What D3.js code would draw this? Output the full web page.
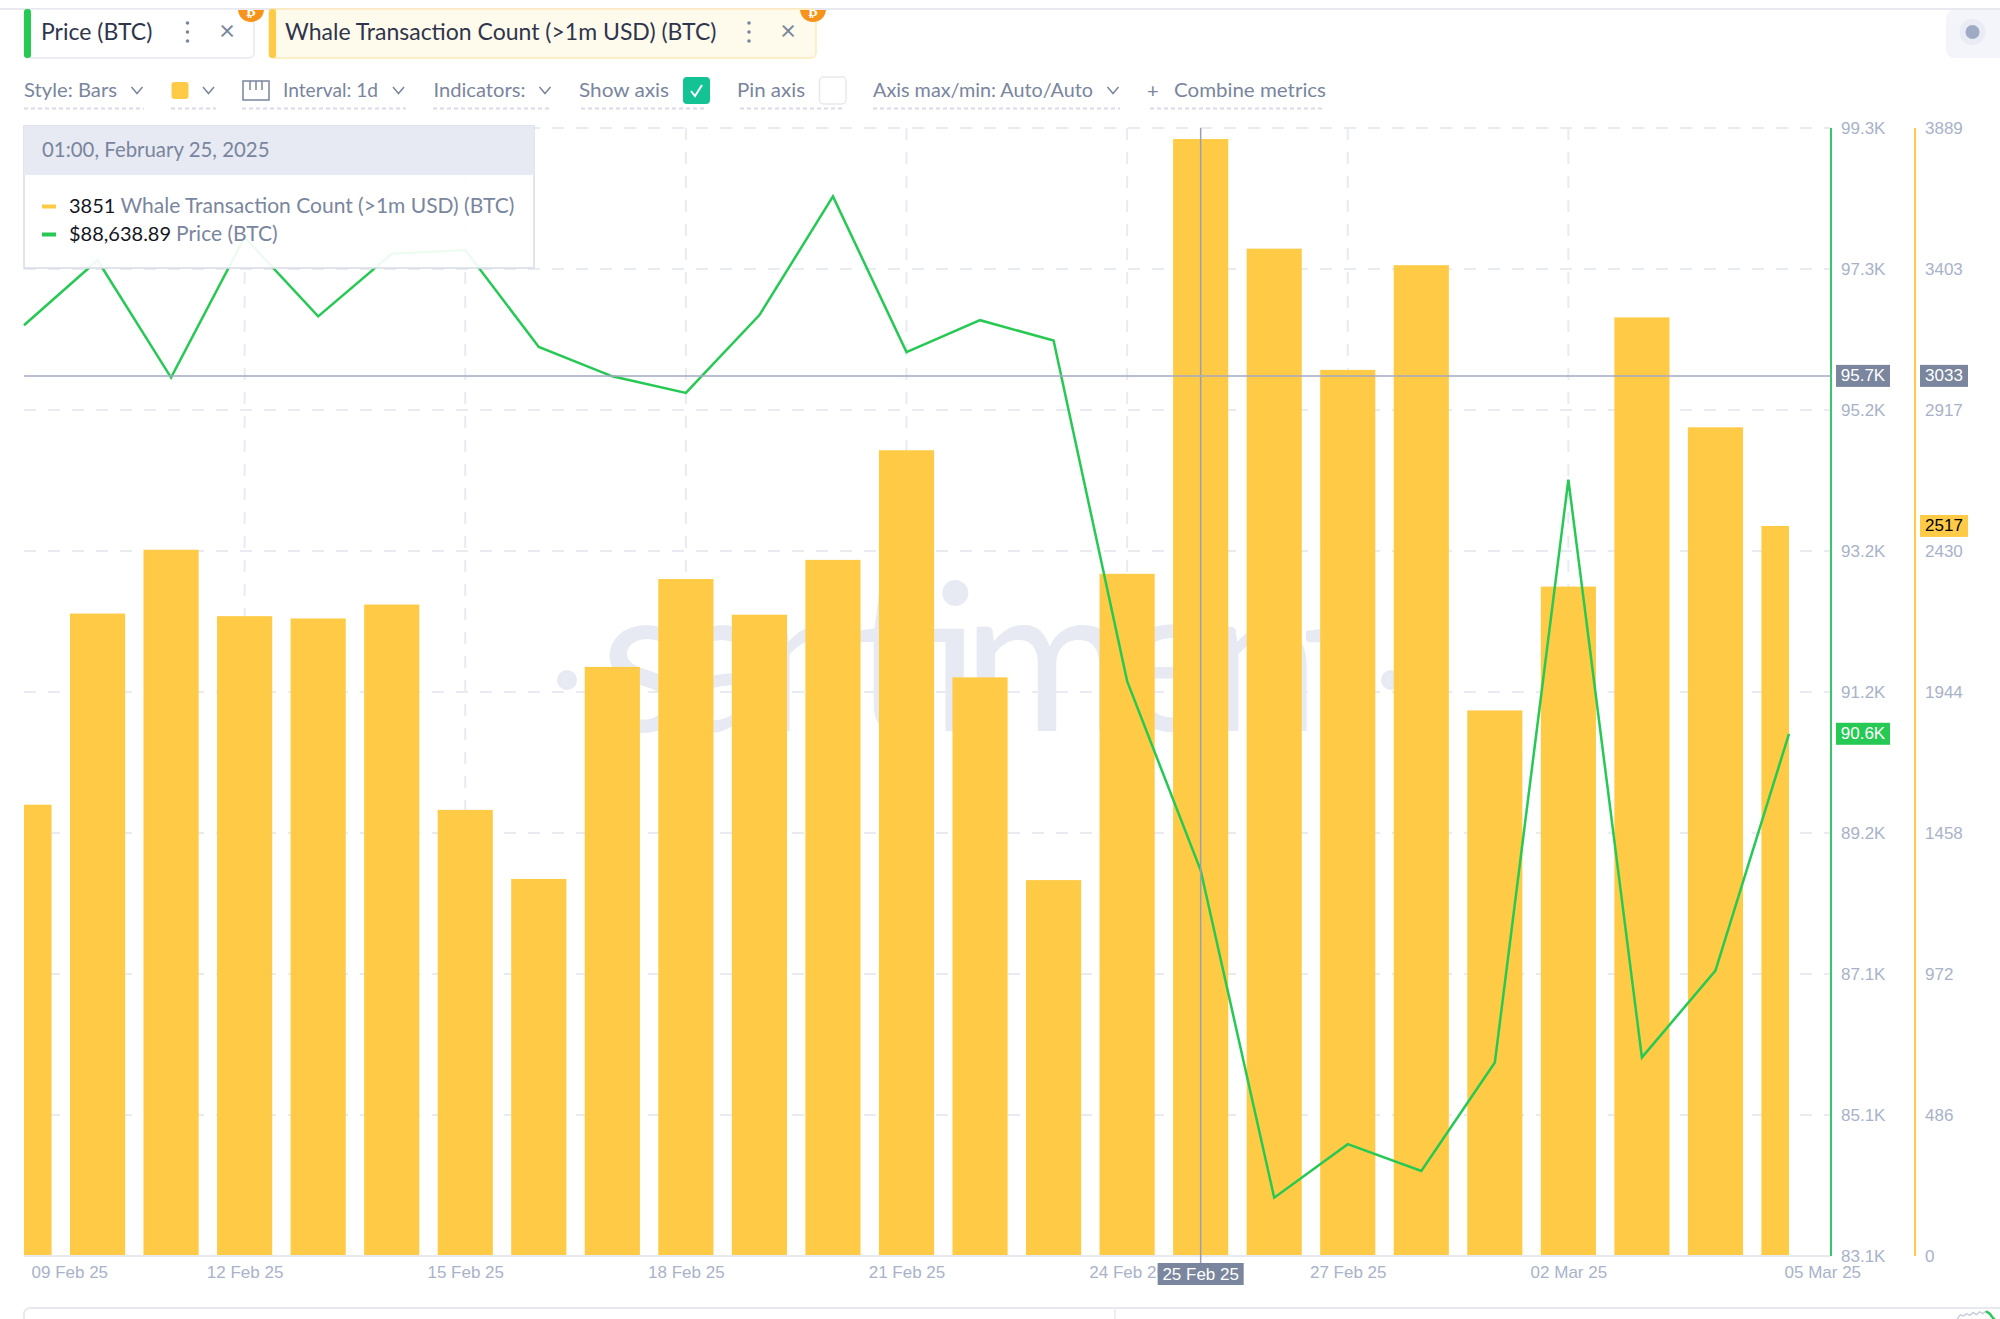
<!DOCTYPE html>
<html>
<head>
  <title>Whale Transaction Count vs Price (BTC)</title>
<style>
  body {
    margin: 0;
    background: #fff;
    font-family: Lato, sans-serif;
  }
  svg { display: block; }
  .ui { font-family: Lato, sans-serif; font-size: 20px; fill: #7a859e; }
  .tab { font-family: Lato, sans-serif; font-size: 23px; fill: #2f354d; }
  .axis-text text { font-family: "Liberation Sans", sans-serif; font-size: 17px; fill: #a9b2c9; }
  .axis-text path, .axis-text line { display: none; }
  .grid { stroke: #e9ebf2; stroke-width: 2; stroke-dasharray: 12 12; }
  .under { stroke: #d9dce6; stroke-width: 2; stroke-dasharray: 4 3; }
  .chev { fill: none; stroke: #7a859e; stroke-width: 1.5; }
  .tag { font-family: "Liberation Sans", sans-serif; font-size: 17px; text-anchor: middle; dominant-baseline: central; }
</style>
</head>
<body>
  <div id="chart"></div>
  <script src="https://d3js.org/d3.v7.min.js"></script>
  <script>
    const width = 2000;
    const height = 1319;

    const dates = ["09 Feb 25", "10 Feb 25", "11 Feb 25", "12 Feb 25", "13 Feb 25", "14 Feb 25", "15 Feb 25",
      "16 Feb 25", "17 Feb 25", "18 Feb 25", "19 Feb 25", "20 Feb 25", "21 Feb 25", "22 Feb 25", "23 Feb 25",
      "24 Feb 25", "25 Feb 25", "26 Feb 25", "27 Feb 25", "28 Feb 25", "01 Mar 25", "02 Mar 25", "03 Mar 25",
      "04 Mar 25", "05 Mar 25"];
    const whaleCount = [1556, 2215, 2435, 2206, 2198, 2246, 1538, 1300, 2031, 2334, 2211, 2400, 2778, 1995, 1296,
      2352, 3851, 3473, 3055, 3416, 1881, 2308, 3236, 2857, 2517];
    const price = [96467, 97401, 95716, 97731, 96595, 97493, 97548, 96156, 95734, 95496, 96613, 98317, 96082, 96540,
      96247, 91356, 88639, 83937, 84706, 84322, 85879, 94250, 85952, 87198, 90600];
    const xTickDates = ["09 Feb 25", "12 Feb 25", "15 Feb 25", "18 Feb 25", "21 Feb 25", "24 Feb 25", "27 Feb 25",
      "02 Mar 25", "05 Mar 25"];
    const priceTicks = [99300, 97275, 95250, 93225, 91200, 89175, 87150, 85125, 83100];
    const priceTickLabels = ["99.3K", "97.3K", "95.2K", "93.2K", "91.2K", "89.2K", "87.1K", "85.1K", "83.1K"];
    const whaleTicks = [3889, 3403, 2917, 2430, 1944, 1458, 972, 486, 0];
    const selectedDate = "25 Feb 25";
    const hoverPrice = 95740;
    const overviewGrey = [2, 6, 5, 7, 5.5, 8, 6, 8.5, 7, 9];
    const overviewGreen = [9, 7, 3, 0];

    const GREEN = "#26c953";
    const YELLOW = "#ffcb47";
    const plot = { left: 24, lastDate: 1789, right: 1831, yellowAxis: 1915, top: 128, bottom: 1256 };

    const svg = d3.select("#chart").append("svg")
      .attr("width", width)
      .attr("height", height);

    const step = (plot.lastDate - plot.left) / (dates.length - 1);
    const xBand = d3.scaleBand()
      .domain(dates)
      .range([plot.left - step / 2, plot.lastDate + step / 2])
      .paddingInner(0.25)
      .paddingOuter(0.125);
    const xCenter = d => xBand(d) + xBand.bandwidth() / 2;

    const yPrice = d3.scaleLinear().domain([83100, 99300]).range([plot.bottom, plot.top]);
    const yWhale = d3.scaleLinear().domain([0, 3889]).range([plot.bottom, plot.top]);

    svg.append("defs").append("clipPath").attr("id", "plot-clip")
      .append("rect")
      .attr("x", plot.left).attr("y", plot.top)
      .attr("width", plot.lastDate - plot.left).attr("height", plot.bottom - plot.top);
    svg.select("defs").append("clipPath").attr("id", "tabs-clip")
      .append("rect")
      .attr("x", 0).attr("y", 10).attr("width", width).attr("height", 60);

    // page chrome above the chart
    svg.append("line").attr("x1", 0).attr("x2", width).attr("y1", 9).attr("y2", 9)
      .attr("stroke", "#e7e9ef").attr("stroke-width", 2);

    function tab(x, w, barColor, fill, border, label, textX, kebabX, closeX) {
      const g = svg.append("g");
      g.append("rect").attr("x", x).attr("y", 9).attr("width", w).attr("height", 49).attr("rx", 5)
        .attr("fill", fill).attr("stroke", border).attr("stroke-width", 1.5);
      g.append("rect").attr("x", x).attr("y", 9).attr("width", 7).attr("height", 49).attr("rx", 3).attr("fill", barColor);
      const badge = g.append("g").attr("clip-path", "url(#tabs-clip)");
      badge.append("circle").attr("cx", x + w - 3).attr("cy", 9).attr("r", 13).attr("fill", "#f7931a");
      badge.append("text").attr("x", x + w - 3).attr("y", 16).attr("text-anchor", "middle")
        .attr("font-family", "DejaVu Sans").attr("font-size", 14).attr("font-weight", "bold").attr("fill", "#fff").text("₿");
      g.append("text").attr("class", "tab").attr("x", textX).attr("y", 40).text(label);
      [23, 32, 41].forEach(y => g.append("circle").attr("cx", kebabX).attr("cy", y).attr("r", 1.8).attr("fill", "#7a859e"));
      g.append("text").attr("x", closeX).attr("y", 40).attr("text-anchor", "middle")
        .attr("font-family", "Lato").attr("font-size", 27).attr("fill", "#7a859e").text("×");
    }
    tab(24, 230, GREEN, "#fff", "#e7e9ef", "Price (BTC)", 41, 187.5, 227);
    tab(269, 547, YELLOW, "#fffbec", "#ffeab8", "Whale Transaction Count (>1m USD) (BTC)", 285, 749, 788);

    svg.append("rect").attr("x", 1946).attr("y", 10).attr("width", 60).attr("height", 48).attr("rx", 8).attr("fill", "#f3f5fa");
    svg.append("circle").attr("cx", 1972.5).attr("cy", 32).attr("r", 13).attr("fill", "#e9ecf5");
    svg.append("circle").attr("cx", 1972.5).attr("cy", 32).attr("r", 7).attr("fill", "#9faac4");

    const chevron = x => svg.append("path").attr("class", "chev")
      .attr("d", `M${x - 5.5},87 L${x},93.5 L${x + 5.5},87`);
    const underline = (x1, x2) => svg.append("line").attr("class", "under")
      .attr("x1", x1).attr("x2", x2).attr("y1", 108.5).attr("y2", 108.5);
    const uiText = (x, t, w) => svg.append("text").attr("class", "ui").attr("x", x).attr("y", 97)
      .attr("textLength", w).attr("lengthAdjust", "spacingAndGlyphs").text(t);

    uiText(24, "Style: Bars", 93); chevron(137); underline(24, 144);
    svg.append("rect").attr("x", 171.5).attr("y", 82).attr("width", 17).attr("height", 17).attr("rx", 3).attr("fill", YELLOW);
    chevron(208.5); underline(171, 216);
    svg.append("rect").attr("x", 243).attr("y", 81).attr("width", 26).attr("height", 19).attr("fill", "none")
      .attr("stroke", "#7a859e").attr("stroke-width", 1.5);
    [250, 256, 262].forEach(x => svg.append("line").attr("x1", x).attr("x2", x).attr("y1", 81).attr("y2", 90)
      .attr("stroke", "#7a859e").attr("stroke-width", 1.5));
    uiText(283, "Interval: 1d", 95); chevron(398.5); underline(242, 406);
    uiText(433.5, "Indicators:", 92); chevron(545); underline(433, 552);
    uiText(579, "Show axis", 90); underline(581, 707);
    svg.append("rect").attr("x", 683).attr("y", 77).attr("width", 27).attr("height", 27).attr("rx", 4).attr("fill", "#14c393");
    svg.append("path").attr("d", "M691,91 L695,96 L702,85").attr("fill", "none").attr("stroke", "#fff").attr("stroke-width", 2);
    uiText(737, "Pin axis", 68); underline(740, 843);
    svg.append("rect").attr("x", 819.5).attr("y", 77).attr("width", 26.5).attr("height", 27).attr("rx", 4)
      .attr("fill", "#fff").attr("stroke", "#e7e9ef").attr("stroke-width", 1.5);
    uiText(873, "Axis max/min: Auto/Auto", 220); chevron(1113); underline(873, 1120);
    svg.append("text").attr("class", "ui").attr("x", 1147).attr("y", 98).attr("font-size", 22).text("+");
    uiText(1174, "Combine metrics", 152); underline(1150, 1322);

    // grid
    const grid = svg.append("g");
    grid.selectAll(".h").data(priceTicks).enter().append("line").attr("class", "grid h")
      .attr("x1", plot.left).attr("x2", plot.right)
      .attr("y1", d => yPrice(d)).attr("y2", d => yPrice(d));
    grid.selectAll(".v").data(xTickDates.slice(1, -1)).enter().append("line").attr("class", "grid v")
      .attr("x1", xCenter).attr("x2", xCenter)
      .attr("y1", plot.top).attr("y2", plot.bottom);

    // watermark
    svg.append("text")
      .attr("x", 600).attr("y", 731)
      .attr("textLength", 775).attr("lengthAdjust", "spacing")
      .attr("font-family", "Lato").attr("font-weight", 400).attr("font-size", 205)
      .attr("fill", "#e7eaf3")
      .text("santiment");
    [567, 1391].forEach(x => svg.append("circle").attr("cx", x).attr("cy", 680).attr("r", 10).attr("fill", "#e7eaf3"));

    // bars
    svg.append("g").attr("clip-path", "url(#plot-clip)")
      .selectAll("rect").data(dates).enter().append("rect")
      .attr("x", d => xBand(d))
      .attr("y", (d, i) => yWhale(whaleCount[i]))
      .attr("width", xBand.bandwidth())
      .attr("height", (d, i) => plot.bottom - yWhale(whaleCount[i]))
      .attr("fill", YELLOW);

    // baseline and side axes
    svg.append("line").attr("x1", plot.left).attr("x2", plot.right).attr("y1", plot.bottom).attr("y2", plot.bottom)
      .attr("stroke", "#e7e9ef").attr("stroke-width", 2);

    svg.append("line").attr("x1", plot.right).attr("x2", plot.right).attr("y1", plot.top).attr("y2", plot.bottom)
      .attr("stroke", "#35c768").attr("stroke-width", 2);
    svg.append("line").attr("x1", plot.yellowAxis).attr("x2", plot.yellowAxis).attr("y1", plot.top).attr("y2", plot.bottom)
      .attr("stroke", YELLOW).attr("stroke-width", 2);

    svg.append("g").attr("class", "axis-text")
      .attr("transform", `translate(${plot.right},0)`)
      .call(d3.axisRight(yPrice).tickValues(priceTicks).tickFormat((d, i) => priceTickLabels[i]).tickSize(0).tickPadding(10));
    svg.append("g").attr("class", "axis-text")
      .attr("transform", `translate(${plot.yellowAxis},0)`)
      .call(d3.axisRight(yWhale).tickValues(whaleTicks).tickFormat(d3.format("d")).tickSize(0).tickPadding(10));

    const xAxisG = svg.append("g").attr("class", "axis-text")
      .attr("transform", `translate(0,${plot.bottom})`)
      .call(d3.axisBottom(d3.scalePoint().domain(dates).range([plot.left, plot.lastDate]))
        .tickValues(xTickDates).tickSize(0).tickPadding(10));
    // first and last labels get pushed inside like in the app
    xAxisG.selectAll("text")
      .attr("text-anchor", d => (d === xTickDates[0] || d === xTickDates[xTickDates.length - 1]) ? "start" : "middle")
      .attr("dx", d => d === xTickDates[0] ? 7 : d === xTickDates[xTickDates.length - 1] ? -5 : 0);

    // price line
    const line = d3.line().x((d, i) => xCenter(dates[i])).y(d => yPrice(d));
    svg.append("path").datum(price)
      .attr("d", line)
      .attr("fill", "none")
      .attr("stroke", GREEN)
      .attr("stroke-width", 2.5);

    // crosshair
    const crossX = xCenter(selectedDate);
    const crossY = yPrice(hoverPrice);
    svg.append("line").attr("x1", crossX).attr("x2", crossX).attr("y1", plot.top).attr("y2", 1263)
      .attr("stroke", "#9a9fb0").attr("stroke-width", 1.5);
    svg.append("line").attr("x1", plot.left).attr("x2", plot.right).attr("y1", crossY).attr("y2", crossY)
      .attr("stroke", "#a3a9c2").attr("stroke-width", 1.5);

    function tag(cx, cy, w, fill, textFill, label) {
      svg.append("rect").attr("x", cx - w / 2).attr("y", cy - 11).attr("width", w).attr("height", 22).attr("fill", fill);
      svg.append("text").attr("class", "tag").attr("x", cx).attr("y", cy).attr("fill", textFill).text(label);
    }
    tag(1863, crossY, 54, "#7a859e", "#fff", "95.7K");
    tag(1944, crossY, 48, "#7a859e", "#fff", "3033");
    tag(1944, yWhale(whaleCount[whaleCount.length - 1]), 48, YELLOW, "#000", "2517");
    tag(1863, yPrice(price[price.length - 1]), 54, GREEN, "#fff", "90.6K");
    tag(crossX, 1274, 86, "#7a859e", "#fff", selectedDate);

    // tooltip
    const tip = svg.append("g");
    tip.append("rect").attr("x", 24).attr("y", 126).attr("width", 510).attr("height", 142)
      .attr("fill", "#fff").attr("fill-opacity", 0.92).attr("stroke", "#d8dbe6").attr("stroke-width", 1.5);
    tip.append("rect").attr("x", 24).attr("y", 126).attr("width", 510).attr("height", 49).attr("fill", "#e7eaf3");
    tip.append("text").attr("class", "ui").attr("x", 42).attr("y", 157).attr("font-size", 20.4)
      .style("font-size", "20.4px").text("01:00, February 25, 2025");
    tip.append("rect").attr("x", 42).attr("y", 204.5).attr("width", 14).attr("height", 4).attr("fill", YELLOW);
    tip.append("rect").attr("x", 42).attr("y", 232.5).attr("width", 14).attr("height", 4).attr("fill", GREEN);
    const row1 = tip.append("text").attr("class", "ui").attr("x", 69).attr("y", 213);
    row1.append("tspan").attr("fill", "#14161f").style("fill", "#14161f").text("3851");
    row1.append("tspan").attr("dx", 5).style("font-size", "21px").text("Whale Transaction Count (>1m USD) (BTC)");
    const row2 = tip.append("text").attr("class", "ui").attr("x", 69).attr("y", 241);
    row2.append("tspan").attr("fill", "#14161f").style("fill", "#14161f").text("$88,638.89");
    row2.append("tspan").attr("dx", 5).style("font-size", "21px").text("Price (BTC)");

    // bottom panel edge with the overview sparkline
    svg.append("rect").attr("x", 24).attr("y", 1308).attr("width", 2000).attr("height", 30).attr("rx", 6)
      .attr("fill", "#fff").attr("stroke", "#e7e9ef").attr("stroke-width", 2);
    svg.append("line").attr("x1", 1115).attr("x2", 1115).attr("y1", 1308).attr("y2", 1319)
      .attr("stroke", "#e7e9ef").attr("stroke-width", 1.5);
    const sparkY = d3.scaleLinear().domain([0, 10]).range([1322, 1310]);
    const sparkGreyX = d3.scaleLinear().domain([0, overviewGrey.length - 1]).range([1957, 1986]);
    const sparkGreenX = d3.scaleLinear().domain([0, overviewGreen.length - 1]).range([1986, 1997]);
    svg.append("path").datum(overviewGrey)
      .attr("d", d3.line().x((d, i) => sparkGreyX(i)).y(d => sparkY(d)))
      .attr("fill", "none").attr("stroke", "#c9cede").attr("stroke-width", 1.5);
    svg.append("path").datum(overviewGreen)
      .attr("d", d3.line().x((d, i) => sparkGreenX(i)).y(d => sparkY(d)))
      .attr("fill", "none").attr("stroke", GREEN).attr("stroke-width", 2.5);
  </script>
</body>
</html>
